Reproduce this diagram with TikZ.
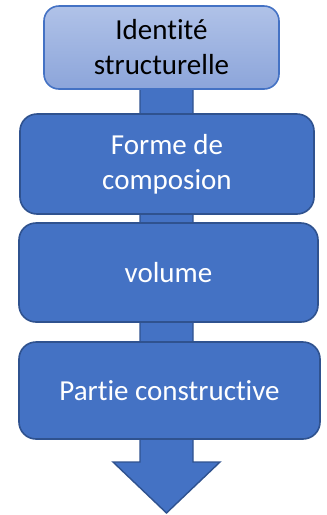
\documentclass[tikz,border=0pt]{standalone}
\usepackage{fontspec}
\setmainfont{Carlito}[Ligatures=NoCommon]
\usetikzlibrary{backgrounds,calc}
\definecolor{accent}{HTML}{4472C4}
\definecolor{accentdark}{HTML}{2F528F}
\definecolor{lighttop}{HTML}{B0C2E8}
\definecolor{lightbottom}{HTML}{8CA5DA}
\tikzset{
  stage/.style={draw=accentdark, line width=1.6pt, fill=accent, rounded corners=17pt,
    text=white, align=center, font=\fontsize{29}{35}\selectfont, inner sep=0pt},
  headbox/.style={draw=accent, line width=1.6pt, top color=lighttop, bottom color=lightbottom,
    rounded corners=15pt, text=black, align=center, font=\fontsize{29}{35}\selectfont, inner sep=0pt},
  flow/.style={draw=accentdark, line width=1.4pt, fill=accent, line join=miter}
}
\begin{document}
\begin{tikzpicture}[x=1pt,y=-1pt]
\useasboundingbox (0,0) rectangle (327,515);
\node[headbox, minimum width=235pt, minimum height=83pt] (ident) at (161.5,47.5) {Identité\\structurelle};
\node[stage, minimum width=294pt, minimum height=100pt] (forme) at (167,164) {Forme de\\composion};
\node[stage, minimum width=299pt, minimum height=99pt] (vol) at (168.5,272.5) {volume};
\node[stage, minimum width=301pt, minimum height=97pt] (partie) at (169.5,390.5) {Partie constructive};
\coordinate (tip) at (166.5,513);
\begin{pgfonlayer}{background}
  % wide block arrow running behind all the stages
  \draw[flow] ($(ident.south -| tip)+(-26.5,-2)$) -- ($(ident.south -| tip)+(26.5,-2)$)
    -- ($(tip)+(26.5,-51)$) -- ($(tip)+(53.5,-51)$) -- (tip)
    -- ($(tip)+(-53.5,-51)$) -- ($(tip)+(-26.5,-51)$) -- cycle;
\end{pgfonlayer}
\end{tikzpicture}
\end{document}
